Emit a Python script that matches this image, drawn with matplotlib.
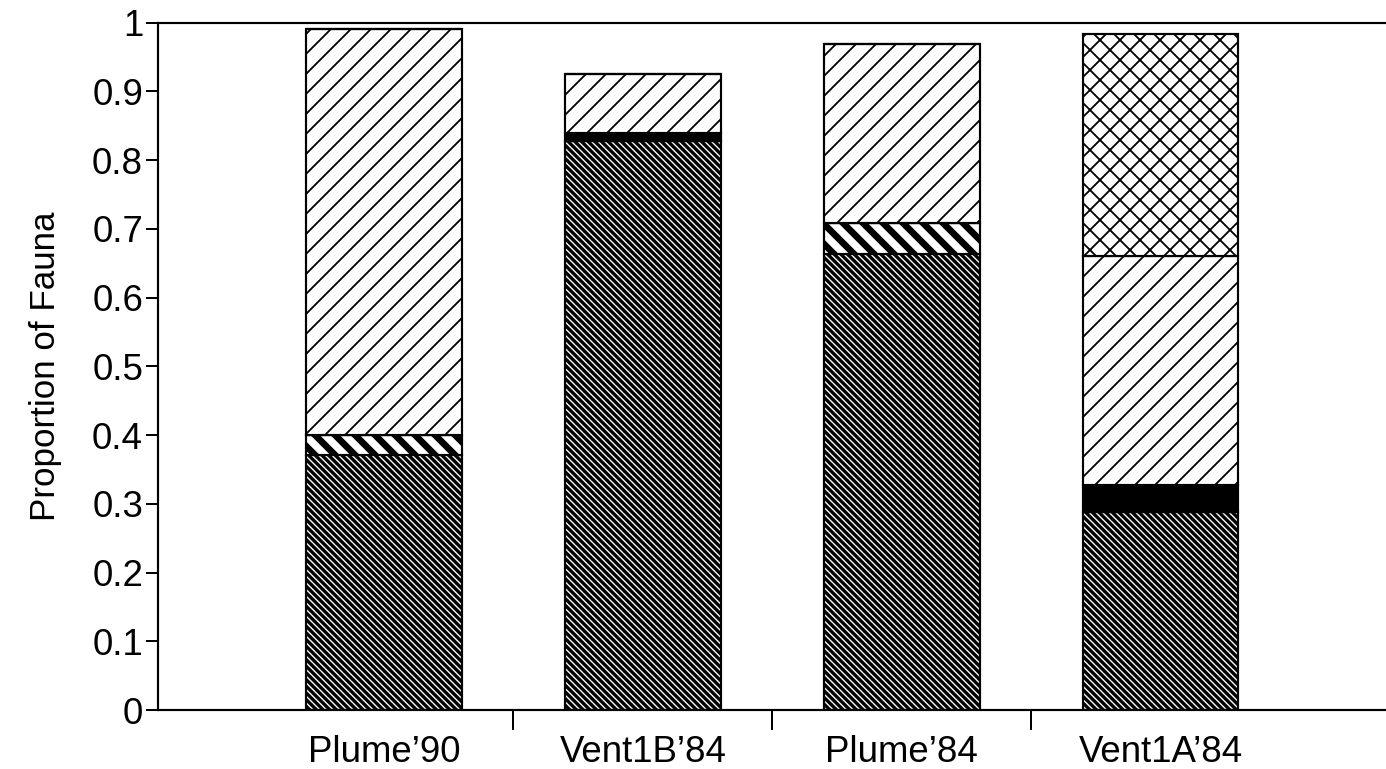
import matplotlib
matplotlib.use("Agg")
import matplotlib.pyplot as plt
import numpy as np

categories = ["Plume\u201990", "Vent1B\u201984", "Plume\u201984", "Vent1A\u201984"]
dark = [0.371, 0.828, 0.664, 0.288]
stripe = [0.029, 0.0, 0.044, 0.0]
black = [0.0, 0.012, 0.0, 0.039]
slash = [0.591, 0.085, 0.261, 0.333]
cross = [0.0, 0.0, 0.0, 0.324]
yticks = [0, 0.1, 0.2, 0.3, 0.4, 0.5, 0.6, 0.7, 0.8, 0.9, 1]
ytick_labels = ["0", "0.1", "0.2", "0.3", "0.4", "0.5", "0.6", "0.7", "0.8", "0.9", "1"]

plt.rcParams['font.family'] = ['Liberation Sans', 'DejaVu Sans']

DPI = 120
fig = plt.figure(figsize=(1386 / DPI, 769 / DPI), dpi=DPI)
ax = fig.add_axes([0.114, 0.0767, 0.886, 0.894])

x = np.arange(len(categories))
width = 0.6

series = [
    (dark, 'white', '\\' * 6, 2.0),
    (stripe, 'white', '\\\\', 4.0),
    (black, 'black', None, 1.0),
    (slash, 'white', '//', 1.1),
    (cross, 'white', 'xx', 1.1),
]

bottom = np.zeros(len(categories))
for vals, fc, hatch, hlw in series:
    vals = np.array(vals)
    with plt.rc_context({'hatch.linewidth': hlw}):
        bars = ax.bar(x, vals, width, bottom=bottom, color=fc, edgecolor='black',
                      linewidth=1.3, hatch=hatch, zorder=2)
        for b in bars:
            try:
                b.set_hatch_linewidth(hlw)
            except Exception:
                pass
    bottom += vals

ax.set_xlim(-0.873, 3.87)
ax.set_ylim(0, 1)

ax.spines['right'].set_visible(False)
for s in ['left', 'top', 'bottom']:
    ax.spines[s].set_linewidth(1.3)

ax.set_yticks(yticks)
ax.set_yticklabels(ytick_labels)
ax.tick_params(axis='y', direction='out', length=7, width=1.2, labelsize=22, pad=2)

ax.set_xticks([0.5, 1.5, 2.5])
ax.set_xticklabels([])
ax.tick_params(axis='x', which='major', direction='out', length=12, width=1.2)
ax.set_xticks(x, minor=True)
ax.set_xticklabels(categories, minor=True, fontsize=22)
ax.tick_params(axis='x', which='minor', length=0, pad=15)

ax.set_ylabel("Proportion of Fauna", fontsize=21)
ax.yaxis.set_label_coords(-0.078, 0.5)

fig.savefig("out.png", dpi=DPI)
